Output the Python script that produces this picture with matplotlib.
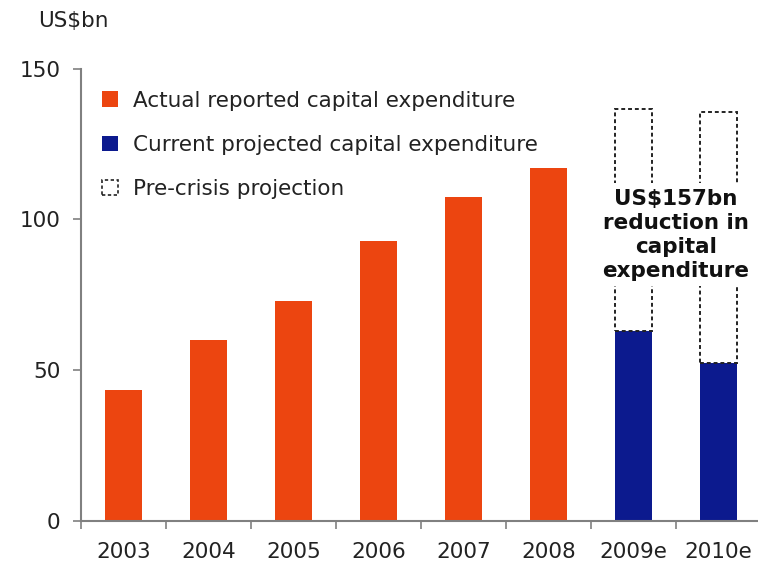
import matplotlib.pyplot as plt
import numpy as np
from matplotlib.patches import Patch

years = ['2003', '2004', '2005', '2006', '2007', '2008', '2009e', '2010e']
actual = [43.5, 60, 73, 93, 107.5, 117]
projected = [63, 52.5]
pre_crisis = [136.5, 135.5]

orange = '#EC4510'
blue = '#0C1A8E'
grey = '#808080'
fs = 15.5

fig = plt.figure(figsize=(7.58, 5.73), dpi=100)
ax = fig.add_axes([0.107, 0.091, 0.897, 0.789])

x = np.arange(len(years))
w = 0.43
ax.bar(x[:6], actual, width=w, color=orange, zorder=2)
ax.bar(x[6:], projected, width=w, color=blue, zorder=2)

# pre-crisis outline boxes sitting on top of the projected bars
gap = [p - c for p, c in zip(pre_crisis, projected)]
ax.bar(x[6:], gap, bottom=projected, width=w, fill=False,
       edgecolor='#222222', linestyle=(0, (2, 1.5)), linewidth=1.4, zorder=2)

ax.text(6.5, 95, 'US$157bn\nreduction in\ncapital\nexpenditure',
        ha='center', va='center', fontsize=15.5, fontweight='bold',
        linespacing=1.25, color='#111111', zorder=4,
        bbox=dict(facecolor='white', edgecolor='none', pad=4))

ax.set_xlim(-0.5, 7.5)
ax.set_ylim(0, 150)
ax.set_yticks([0, 50, 100, 150])
ax.tick_params(axis='y', length=6, width=1.2, color=grey, pad=9,
               labelsize=fs, labelcolor='#222222')
ax.set_xticks(x)
ax.set_xticklabels(years)
ax.tick_params(axis='x', which='major', length=0, pad=15,
               labelsize=fs, labelcolor='#222222')
ax.set_xticks(np.arange(-0.5, 8, 1), minor=True)
ax.tick_params(axis='x', which='minor', length=6, width=1.2, color=grey)

for s in ['top', 'right']:
    ax.spines[s].set_visible(False)
for s in ['left', 'bottom']:
    ax.spines[s].set_color(grey)
    ax.spines[s].set_linewidth(1.5)

fig.text(0.05, 0.963, 'US$bn', fontsize=fs, color='#222222', va='center')

handles = [Patch(facecolor=orange, edgecolor='none'),
           Patch(facecolor=blue, edgecolor='none'),
           Patch(facecolor='none', edgecolor='#222222',
                 linestyle=(0, (2, 1.5)), linewidth=1.2)]
labels = ['Actual reported capital expenditure',
          'Current projected capital expenditure',
          'Pre-crisis projection']
ax.legend(handles, labels, loc='upper left', bbox_to_anchor=(0.002, 0.994),
          frameon=False, fontsize=fs, handlelength=0.75, handleheight=0.75,
          handletextpad=0.7, labelspacing=1.12, labelcolor='#222222')

fig.savefig('out.png', dpi=100)
